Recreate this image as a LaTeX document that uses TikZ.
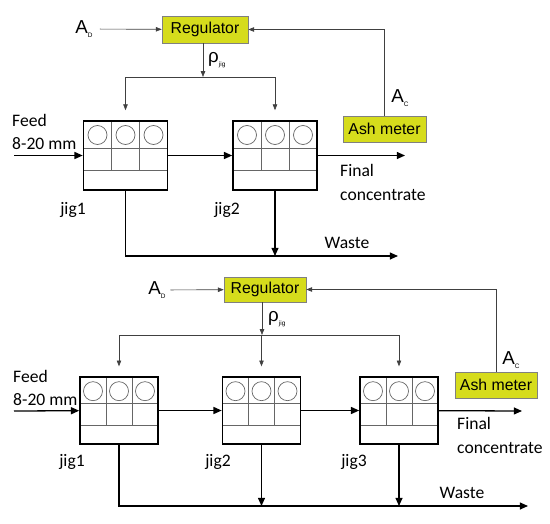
\documentclass[tikz,border=0pt]{standalone}
\usepackage{fontspec}
\setmainfont{Carlito}
\newfontfamily\arialfont{Liberation Sans}
\usetikzlibrary{arrows.meta,calc}
\definecolor{meteryellow}{RGB}{214,220,28}
\newcommand{\tinysub}[1]{\raisebox{-0.45ex}{\fontsize{5.5}{6}\selectfont #1}}

\begin{document}
\begin{tikzpicture}[x=0.03cm,y=-0.03cm,
  box/.style={draw=black!50,fill=meteryellow,minimum width=2.5cm,minimum height=0.78cm,inner sep=1pt,
    font=\arialfont\fontsize{13.5}{15}\selectfont},
  cell/.style={draw=black!60,line width=0.6pt},
  jig/.style={draw=black,line width=1.4pt,inner sep=0pt,minimum width=#1,
    path picture={
      \coordinate (p) at (path picture bounding box.north west);
      \coordinate (q) at (path picture bounding box.south east);
      \coordinate (r1) at ($(p)!0.39!(p |- q)$);
      \coordinate (r2) at ($(p)!0.72!(p |- q)$);
      \draw[cell] (r1) -- (r1 -| q) (r2) -- (r2 -| q);
      \foreach \k in {1,2} {
        \coordinate (c) at ($(p)!\k/3!(q |- p)$);
        \draw[cell] (c) -- (c |- r2);
      }
      \foreach \k in {1,3,5}
        \draw[cell] ($(p)!\k/6!(q |- p)$) ++(0,14) circle[radius=9.5];
    }},
  flow/.style={line width=1.1pt,-{Triangle[length=7pt,width=6pt]}},
  ctrl/.style={draw=black!75,line width=0.55pt,-{Triangle[length=5pt,width=3.8pt]}},
  lbl/.style={font=\fontsize{15}{20.4}\selectfont,inner sep=0pt,align=left},
  sym/.style={font=\arialfont\fontsize{16}{18}\selectfont,inner sep=0pt}]
\useasboundingbox (0,0) rectangle (550,524);

% upper circuit: jig1 + jig2
\node[box,minimum width=2.58cm,minimum height=0.81cm] (reg1) at (205,29.5) {Regulator};
\node[box] (ash1) at (384.5,129) {Ash meter};
\node[jig=2.52cm,minimum height=2.07cm] (jig1a) at (125.5,155.5) {};
\node[jig=2.52cm,minimum height=2.07cm] (jig2a) at (275,155.5) {};
\node[sym] (ad1) at (84,29) {A\tinysub{D}};
\node[sym] (ac1) at (400,98) {A\tinysub{C}};
\node[sym,anchor=west] (rho1) at (208,60) {ρ\tinysub{jig}};
\node[lbl,anchor=west] (feed1) at (12,132) {Feed\\8-20 mm};
\node[lbl,anchor=west] (conc1) at (340,182.5) {Final\\concentrate};
\node[lbl] (wl1) at (347,243) {Waste};
\node[lbl] (lj1a) at (73,210) {jig1};
\node[lbl] (lj2a) at (227,210) {jig2};
\coordinate (split1) at (203,77);
\coordinate (in1) at (14,155.5);
\coordinate (out1) at (405,155.5);
\coordinate (waste1) at (398,256);

\draw[ctrl,shorten <=6pt] (ad1) -- (reg1);
\draw[ctrl] (ash1.north) |- (reg1.east);
\draw[ctrl] (reg1.south -| split1) -- (split1);
\draw[ctrl,-] (split1 -| jig1a) -- (split1 -| jig2a);
\draw[ctrl] (split1 -| jig1a) -- ([yshift=8.5pt]jig1a.north);
\draw[ctrl] (split1 -| jig2a) -- ([yshift=8.5pt]jig2a.north);
\draw[flow] (in1) -- (jig1a);
\draw[flow] (jig1a) -- (jig2a);
\draw[flow] (jig2a) -- (out1);
\draw[flow] (jig1a.south) |- (waste1);
\draw[flow] (jig2a.south) -- (jig2a.south |- waste1);

% lower circuit: jig1 + jig2 + jig3
\node[box,minimum width=2.46cm,minimum height=0.75cm] (reg2) at (265,289.5) {Regulator};
\node[box,minimum width=2.46cm] (ash2) at (496,385) {Ash meter};
\node[jig=2.34cm,minimum height=2.0cm] (jig1b) at (119,410.5) {};
\node[jig=2.34cm,minimum height=2.0cm] (jig2b) at (261.5,410.5) {};
\node[jig=2.34cm,minimum height=2.0cm] (jig3b) at (399,410.5) {};
\node[sym] (ad2) at (157,290) {A\tinysub{D}};
\node[sym] (ac2) at (511,360) {A\tinysub{C}};
\node[sym,anchor=west] (rho2) at (268,319) {ρ\tinysub{jig}};
\node[lbl,anchor=west] (feed2) at (13,388) {Feed\\8-20 mm};
\node[lbl,anchor=west] (conc2) at (457,435.5) {Final\\concentrate};
\node[lbl] (wl2) at (462,493) {Waste};
\node[lbl] (lj1b) at (72,462) {jig1};
\node[lbl] (lj2b) at (218,462) {jig2};
\node[lbl] (lj3b) at (354,462) {jig3};
\coordinate (split2) at (262,335);
\coordinate (in2) at (14,411);
\coordinate (out2) at (522,411);
\coordinate (waste2) at (528,506);

\draw[ctrl,shorten <=4pt] (ad2) -- (reg2);
\draw[ctrl] (ash2.north) |- (reg2.east);
\draw[ctrl] (reg2.south -| split2) -- (split2);
\draw[ctrl,-] (split2 -| jig1b) -- (split2 -| jig3b);
\foreach \j in {jig1b,jig2b,jig3b}
  \draw[ctrl] (split2 -| \j) -- ([yshift=8.5pt]\j.north);
\draw[flow] (in2) -- (jig1b);
\draw[flow] (jig1b) -- (jig2b);
\draw[flow] (jig2b) -- (jig3b);
\draw[flow] (jig3b) -- (out2);
\draw[flow] (jig1b.south) |- (waste2);
\draw[flow] (jig2b.south) -- (jig2b.south |- waste2);
\draw[flow] (jig3b.south) -- (jig3b.south |- waste2);
\end{tikzpicture}
\end{document}
